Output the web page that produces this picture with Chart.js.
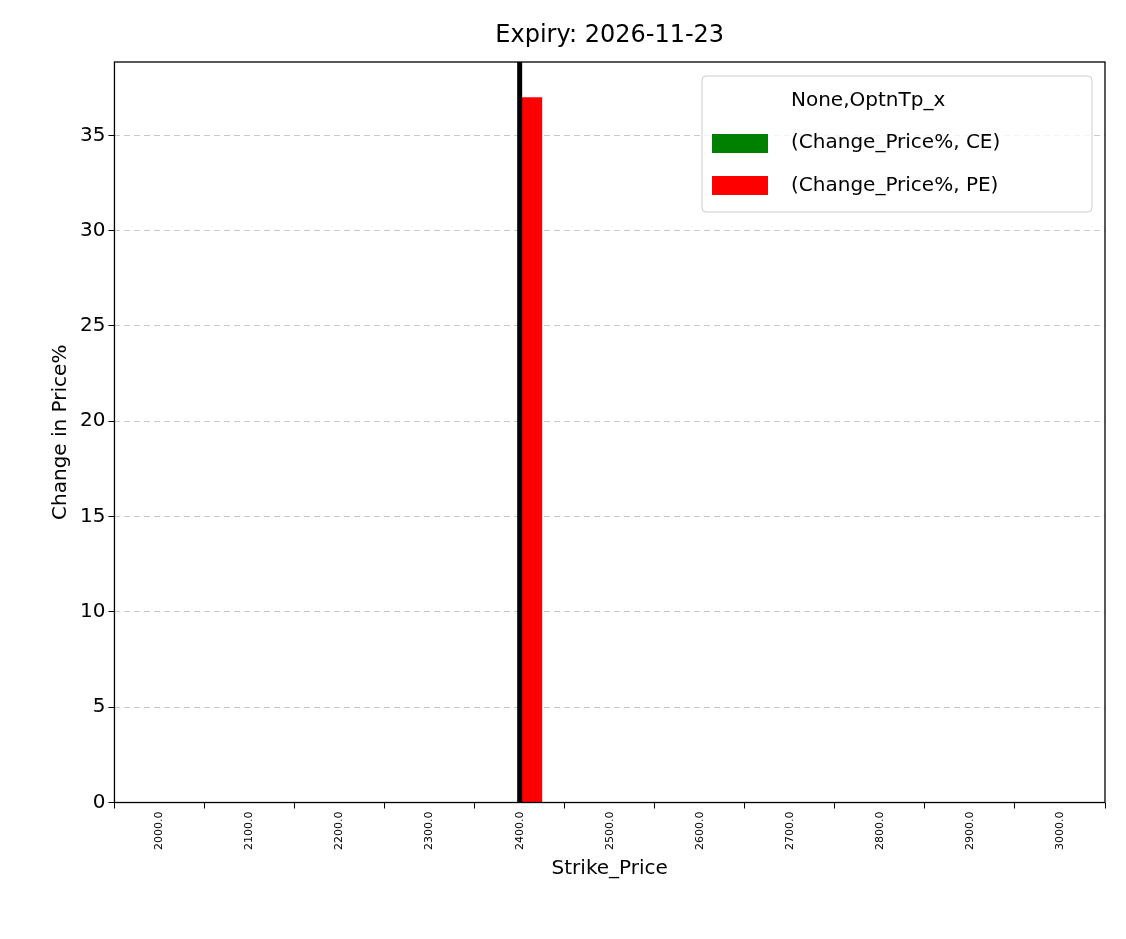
<!DOCTYPE html>
<html>
<head>
<meta charset="utf-8">
<script src="https://cdn.jsdelivr.net/npm/chart.js@4"></script>
<style>body{margin:0;background:#fff;}</style>
</head>
<body>
<canvas id="canvas" width="1126" height="939"></canvas>
<script>
// strike prices and % change per option type
const strikes = ['2000.0','2100.0','2200.0','2300.0','2400.0','2500.0','2600.0','2700.0','2800.0','2900.0','3000.0'];
const ceChange = [0, 0, 0, 0, 0, 0, 0, 0, 0, 0, 0];
const peChange = [0, 0, 0, 0, 37.0, 0, 0, 0, 0, 0, 0];
const underlyingStrike = '2400.0';
const yTicks = [0, 5, 10, 15, 20, 25, 30, 35];

const font = 'DejaVu Sans';

// matplotlib-like frame, marker line, legend
const extras = {
    id: 'extras',
    afterDatasetsDraw(chart) {
        const c = chart.ctx, a = chart.chartArea;
        const x = chart.scales.x.getPixelForValue(strikes.indexOf(underlyingStrike));
        c.save();
        c.fillStyle = '#000';
        c.fillRect(x - 2.5, a.top, 5, a.bottom - a.top);
        c.strokeStyle = '#000';
        c.lineWidth = 1.3;
        c.strokeRect(a.left, a.top, a.right - a.left, a.bottom - a.top);
        // legend box
        const lx = 702, ly = 76, lw = 390, lh = 136;
        c.fillStyle = 'rgba(255,255,255,0.8)';
        c.strokeStyle = '#ccc';
        c.lineWidth = 1;
        c.beginPath();
        c.roundRect(lx, ly, lw, lh, 4);
        c.fill(); c.stroke();
        c.fillStyle = '#000';
        c.font = '20px ' + font;
        c.textBaseline = 'middle';
        c.fillText('None,OptnTp_x', 791, 101);
        c.fillStyle = 'green';
        c.fillRect(712, 134, 56, 19);
        c.fillStyle = 'red';
        c.fillRect(712, 176, 56, 19);
        c.fillStyle = '#000';
        c.fillText('(Change_Price%, CE)', 791, 143);
        c.fillText('(Change_Price%, PE)', 791, 186);
        // title centred over plot area
        c.font = '24px ' + font;
        c.textAlign = 'center';
        c.fillText('Expiry: 2026-11-23', (a.left + a.right) / 2, 36);
        c.restore();
    }
};

new Chart(document.getElementById('canvas'), {
    type: 'bar',
    data: {
        labels: strikes,
        datasets: [
            { label: '(Change_Price%, CE)', data: ceChange, backgroundColor: 'green' },
            { label: '(Change_Price%, PE)', data: peChange, backgroundColor: 'red' }
        ]
    },
    options: {
        responsive: false,
        animation: false,
        devicePixelRatio: 1,
        categoryPercentage: 0.5,
        barPercentage: 1,
        layout: { padding: { left: 45, right: 21, top: 62, bottom: 54 } },
        plugins: {
            legend: { display: false },
            tooltip: { enabled: false },
            title: { display: false }
        },
        scales: {
            x: {
                grid: { color: 'rgba(0,0,0,0)', drawOnChartArea: false, drawTicks: true, tickColor: '#000', tickLength: 6 },
                border: { display: false },
                ticks: { color: '#000', font: { family: font, size: 11 }, minRotation: 90, maxRotation: 90 },
                title: { display: true, text: 'Strike_Price', color: '#000', font: { family: font, size: 20 } }
            },
            y: {
                min: 0, max: 38.85,
                afterBuildTicks(s) { s.ticks = yTicks.map(v => ({ value: v })); },
                grid: {
                    color: ctx => ctx.tick && ctx.tick.value === 0 ? 'rgba(0,0,0,0)' : 'rgba(176,176,176,0.7)',
                    drawTicks: true, tickColor: '#000', tickLength: 6
                },
                border: { display: false, dash: [6, 4] },
                ticks: { color: '#000', font: { family: font, size: 20 } },
                title: { display: true, text: 'Change in Price%', color: '#000', font: { family: font, size: 20 } }
            }
        }
    },
    plugins: [extras]
});
</script>
</body>
</html>
